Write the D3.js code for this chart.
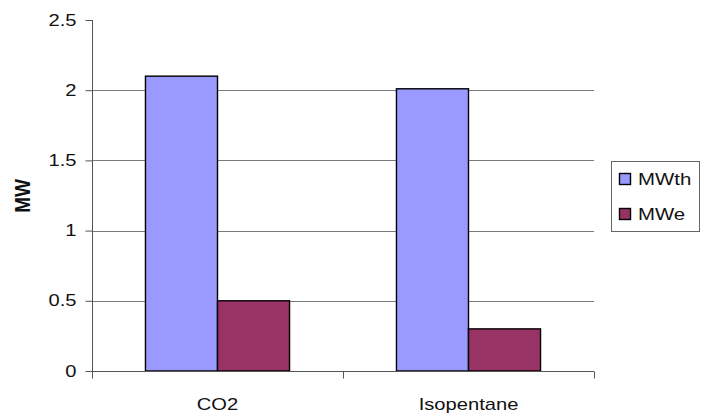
<!DOCTYPE html>
<html>
<head>
<meta charset="utf-8">
<script src="https://cdn.jsdelivr.net/npm/d3@7"></script>
<style>
  html, body { margin: 0; padding: 0; background: #fff; }
  svg { display: block; font-family: "Liberation Sans", Arial, sans-serif; }
</style>
</head>
<body>
<svg id="chart" width="705" height="413"></svg>
<script>
// Working fluids and the two output series
const categories = ["CO2", "Isopentane"];
const seriesNames = ["MWth", "MWe"];
const mwth = [2.1, 2.01];
const mwe = [0.5, 0.3];
const yTicks = [0, 0.5, 1, 1.5, 2, 2.5];
const seriesColors = ["#9999FF", "#993366"];

const svg = d3.select("#chart");
const stretch = 1.26; // horizontal widening of text

const plotLeft = 92, plotRight = 594, plotTop = 20, plotBottom = 371;

const y = d3.scaleLinear().domain([0, 2.5]).range([plotBottom, plotTop]);
const x0 = d3.scaleBand().domain(categories).range([plotLeft, plotRight]).paddingInner(0).paddingOuter(0);
const bw = x0.bandwidth();
const x1 = d3.scaleBand().domain(seriesNames).range([bw * 0.213, bw * 0.787]);
const color = d3.scaleOrdinal().domain(seriesNames).range(seriesColors);

const rows = categories.map((c, i) => ({ cat: c, values: [
  { key: "MWth", v: mwth[i] },
  { key: "MWe", v: mwe[i] }
]}));

// Horizontal gridlines (above zero, below the top tick)
svg.append("g")
  .selectAll("line")
  .data(yTicks.filter(t => t > 0 && t < 2.5))
  .join("line")
  .attr("x1", plotLeft).attr("x2", plotRight)
  .attr("y1", d => Math.round(y(d)) + 0.5).attr("y2", d => Math.round(y(d)) + 0.5)
  .attr("stroke", "#7a7a7a").attr("stroke-width", 1);

// Bars
svg.append("g")
  .selectAll("g")
  .data(rows)
  .join("g")
  .attr("transform", d => `translate(${x0(d.cat)},0)`)
  .selectAll("rect")
  .data(d => d.values)
  .join("rect")
  .attr("x", d => x1(d.key))
  .attr("y", d => y(d.v))
  .attr("width", x1.bandwidth())
  .attr("height", d => y(0) - y(d.v))
  .attr("fill", d => color(d.key))
  .attr("stroke", "#000")
  .attr("stroke-width", 1.4);

// Y axis
const yAxis = d3.axisLeft(y).tickValues(yTicks).tickSize(7).tickPadding(9)
  .tickFormat(d => String(d));
const gy = svg.append("g").attr("transform", `translate(${plotLeft + 0.5},0)`).call(yAxis);
gy.select(".domain").remove();
gy.append("line").attr("x1", 0).attr("x2", 0).attr("y1", plotTop).attr("y2", plotBottom + 7)
  .attr("stroke", "#555");
gy.selectAll(".tick line").attr("stroke", "#555");
gy.selectAll(".tick text")
  .attr("font-size", 16).attr("fill", "#111")
  .attr("font-family", "Liberation Sans, Arial, sans-serif")
  .each(function() {
    const t = d3.select(this);
    const tx = +t.attr("x");
    t.attr("x", null)
     .attr("transform", `translate(${tx},0) scale(${stretch},1)`);
  });

// X axis
const gx = svg.append("g").attr("transform", `translate(0,${Math.round(plotBottom) + 0.5})`);
gx.append("line").attr("x1", plotLeft).attr("x2", plotRight).attr("stroke", "#555");
gx.selectAll(".sep")
  .data([plotLeft, x0("Isopentane"), plotRight])
  .join("line")
  .attr("class", "sep")
  .attr("x1", d => Math.round(d) + 0.5).attr("x2", d => Math.round(d) + 0.5)
  .attr("y1", 0).attr("y2", 7)
  .attr("stroke", "#555");
gx.selectAll(".cat")
  .data(categories)
  .join("text")
  .attr("class", "cat")
  .attr("transform", d => `translate(${x0(d) + bw / 2},${38}) scale(${stretch},1)`)
  .attr("text-anchor", "middle")
  .attr("font-size", 16)
  .attr("fill", "#111")
  .text(d => d);

// Y axis title
svg.append("text")
  .attr("transform", `translate(30,196) scale(1.2,1) rotate(-90)`)
  .attr("text-anchor", "middle")
  .attr("font-size", 19)
  .attr("font-weight", "bold")
  .attr("fill", "#111")
  .text("MW");

// Legend
const lg = svg.append("g").attr("transform", "translate(611,161)");
lg.append("rect").attr("x", 0.5).attr("y", 0.5).attr("width", 88).attr("height", 70)
  .attr("fill", "#fff").attr("stroke", "#666");
const items = lg.selectAll(".item").data(seriesNames).join("g")
  .attr("class", "item")
  .attr("transform", (d, i) => `translate(0,${i * 35})`);
items.append("rect")
  .attr("x", 8.5).attr("y", 12.5).attr("width", 11).attr("height", 11)
  .attr("fill", d => color(d)).attr("stroke", "#000").attr("stroke-width", 1.4);
items.append("text")
  .attr("transform", `translate(27,24) scale(1.2,1)`)
  .attr("font-size", 17)
  .attr("fill", "#111")
  .text(d => d);
</script>
</body>
</html>
